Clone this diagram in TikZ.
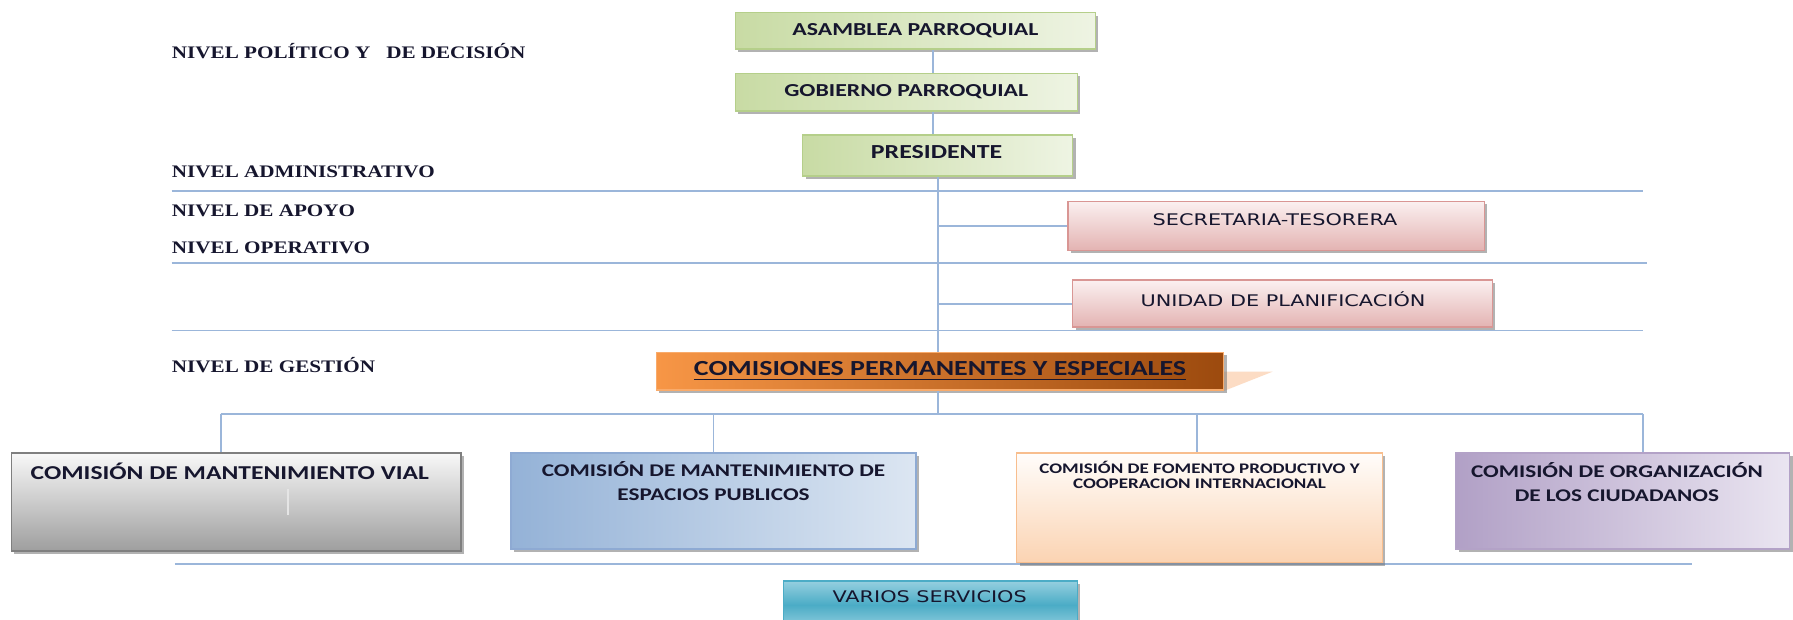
\documentclass[tikz,border=0pt]{standalone}
\usepackage{fontspec}
\setmainfont{Carlito}
\newfontfamily\boxfont[FakeStretch=1.3]{Carlito}
\newfontfamily\lvlfont[FakeStretch=1.2]{Liberation Serif}
\newfontfamily\vfont[FakeStretch=1.3]{DejaVu Sans}
\usetikzlibrary{shadows}
\definecolor{txt}{HTML}{16162E}
\definecolor{lnC}{HTML}{9BB6DA}
\definecolor{grnA}{HTML}{C8DBA4}
\definecolor{grnB}{HTML}{EEF4E3}
\definecolor{grnD}{HTML}{B5CF8A}
\definecolor{pnkA}{HTML}{FBF0F0}
\definecolor{pnkB}{HTML}{E3B3B2}
\definecolor{pnkD}{HTML}{D99694}
\definecolor{orA}{HTML}{F79646}
\definecolor{orB}{HTML}{9C4A0E}
\definecolor{orT}{HTML}{FCDCC4}
\definecolor{gyA}{HTML}{F8F8F8}
\definecolor{gyB}{HTML}{9E9E9E}
\definecolor{gyD}{HTML}{7F7F7F}
\definecolor{blA}{HTML}{94B2D7}
\definecolor{blB}{HTML}{DCE6F2}
\definecolor{blD}{HTML}{8EAAD3}
\definecolor{peA}{HTML}{FFFDFB}
\definecolor{peB}{HTML}{FBD3B2}
\definecolor{peD}{HTML}{F8BE8E}
\definecolor{puA}{HTML}{B1A0C6}
\definecolor{puB}{HTML}{EAE5F1}
\definecolor{puD}{HTML}{B3A2C7}
\definecolor{teA}{HTML}{95CFDF}
\definecolor{teB}{HTML}{4BACC6}
\definecolor{teD}{HTML}{4BACC6}
\tikzset{
  conn/.style={draw=lnC, line width=0.8pt},
  sepl/.style={draw=lnC, line width=0.8pt},
  box/.style={line width=0.6pt, inner sep=0pt, text=txt,
    drop shadow={shadow xshift=1.3pt, shadow yshift=-1.3pt, fill=black!55, opacity=.55}},
  grnbox/.style={box, draw=grnD, left color=grnA, right color=grnB},
  pnkbox/.style={box, draw=pnkD, top color=pnkA, bottom color=pnkB},
  orbox/.style={box, draw=orA!80!white, left color=orA, right color=orB},
  gybox/.style={box, draw=gyD, top color=gyA, bottom color=gyB},
  blbox/.style={box, draw=blD, left color=blA, right color=blB},
  pebox/.style={box, draw=peD, top color=peA, bottom color=peB},
  pubox/.style={box, draw=puD, left color=puA, right color=puB},
  tebox/.style={box, draw=teD, top color=teA, bottom color=teA, middle color=teB},
  lvl/.style={anchor=west, inner sep=0pt, text=txt, font=\lvlfont\bfseries\fontsize{7.7}{8}\selectfont},
  bt/.style={inner sep=0pt, text=txt, align=center},
}
\begin{document}
\begin{tikzpicture}[x=0.5pt,y=-0.5pt]
\clip (0,0) rectangle (1568,542);
\fill[white] (0,0) rectangle (1568,542);
% level separator lines
\draw[sepl] (150,167) -- (1437,167);
\draw[sepl] (150,230) -- (1440,230);
\draw[sepl] (150,289) -- (1437,289);
\draw[sepl] (153,493) -- (1480,493);
% level labels
\node[lvl] (l1) at (150,45) {NIVEL POLÍTICO Y \ \ DE DECISIÓN};
\node[lvl] (l2) at (150,150) {NIVEL ADMINISTRATIVO};
\node[lvl] (l3) at (150,184) {NIVEL DE APOYO};
\node[lvl] (l4) at (150,217) {NIVEL OPERATIVO};
\node[lvl] (l5) at (150,319) {NIVEL DE GESTIÓN};
% top boxes
\node[grnbox, minimum width=157.5pt, minimum height=16pt, font=\boxfont\bfseries\fontsize{8}{9}\selectfont] (asam) at (800.5,27) {ASAMBLEA PARROQUIAL};
\node[grnbox, minimum width=149.5pt, minimum height=16.5pt, font=\boxfont\bfseries\fontsize{8}{9}\selectfont] (gob) at (792.5,80.5) {GOBIERNO PARROQUIAL};
\node[grnbox, minimum width=118pt, minimum height=18pt] (pres) at (820,136) {};
\node[bt, font=\boxfont\bfseries\fontsize{8.7}{10}\selectfont] (presT) at (819,133) {PRESIDENTE};
% support boxes
\node[pnkbox, minimum width=182pt, minimum height=21.5pt] (sec) at (1116,197.5) {};
\node[bt, font=\vfont\fontsize{7}{8}\selectfont] (secT) at (1115,192) {SECRETARIA-TESORERA};
\node[pnkbox, minimum width=183.5pt, minimum height=20.5pt] (uni) at (1121.5,265.5) {};
\node[bt, font=\vfont\fontsize{7}{8}\selectfont] (uniT) at (1122,262) {UNIDAD DE PLANIFICACIÓN};
% comisiones bar
\fill[orT] (1070,325) -- (1113,325) -- (1070,342) -- cycle;
\node[orbox, minimum width=248pt, minimum height=16.5pt, font=\boxfont\bfseries\fontsize{9.4}{10}\selectfont] (com) at (822,324.5) {\underline{COMISIONES PERMANENTES Y ESPECIALES}};
% bottom boxes
\node[gybox, minimum width=196.5pt, minimum height=43pt] (gray) at (206.5,439) {};
\node[bt, font=\boxfont\bfseries\fontsize{8.6}{10}\selectfont] (grayT) at (201,412) {COMISIÓN DE MANTENIMIENTO VIAL};
\draw[white!80!gray, line width=0.6pt] (252,428) -- (252,450);
\node[blbox, minimum width=177pt, minimum height=42pt] (blue) at (624,438) {};
\node[bt, font=\boxfont\bfseries\fontsize{7.8}{10.5}\selectfont] (blueT) at (624,420.5) {COMISIÓN DE MANTENIMIENTO DE\\ESPACIOS PUBLICOS};
\node[pebox, minimum width=160pt, minimum height=48pt] (peach) at (1049,444) {};
\node[bt, font=\boxfont\bfseries\fontsize{6.4}{6.5}\selectfont] (peachT) at (1049,415.5) {COMISIÓN DE FOMENTO PRODUCTIVO Y\\COOPERACION INTERNACIONAL};
\node[pubox, minimum width=146pt, minimum height=42pt] (purp) at (1419,438) {};
\node[bt, font=\boxfont\bfseries\fontsize{7.8}{10.5}\selectfont] (purpT) at (1414,421.5) {COMISIÓN DE ORGANIZACIÓN\\DE LOS CIUDADANOS};
\node[tebox, minimum width=128.5pt, minimum height=21pt] (var) at (813.5,529) {};
\node[bt, font=\vfont\fontsize{7}{8}\selectfont] (varT) at (813,522) {VARIOS SERVICIOS};
% connectors
\coordinate (vx1) at (816,0);
\coordinate (vx2) at (820,0);
\draw[conn] (asam.south -| vx1) -- (gob.north -| vx1);
\draw[conn] (gob.south -| vx1) -- (pres.north -| vx1);
\draw[conn] (pres.south -| vx2) -- (com.north -| vx2);
\draw[conn] (sec.west) -- (sec.west -| vx2);
\draw[conn] (uni.west) -- (uni.west -| vx2);
\coordinate (bus) at (820,362);
\coordinate (b1) at (193,362);
\coordinate (b2) at (624,362);
\coordinate (b3) at (1047,362);
\coordinate (b4) at (1437,362);
\draw[conn] (com.south -| vx2) -- (bus);
\draw[conn] (b1) -- (b4);
\draw[conn] (b1) -- (b1 |- gray.north);
\draw[conn] (b2) -- (b2 |- blue.north);
\draw[conn] (b3) -- (b3 |- peach.north);
\draw[conn] (b4) -- (b4 |- purp.north);
\end{tikzpicture}
\end{document}
